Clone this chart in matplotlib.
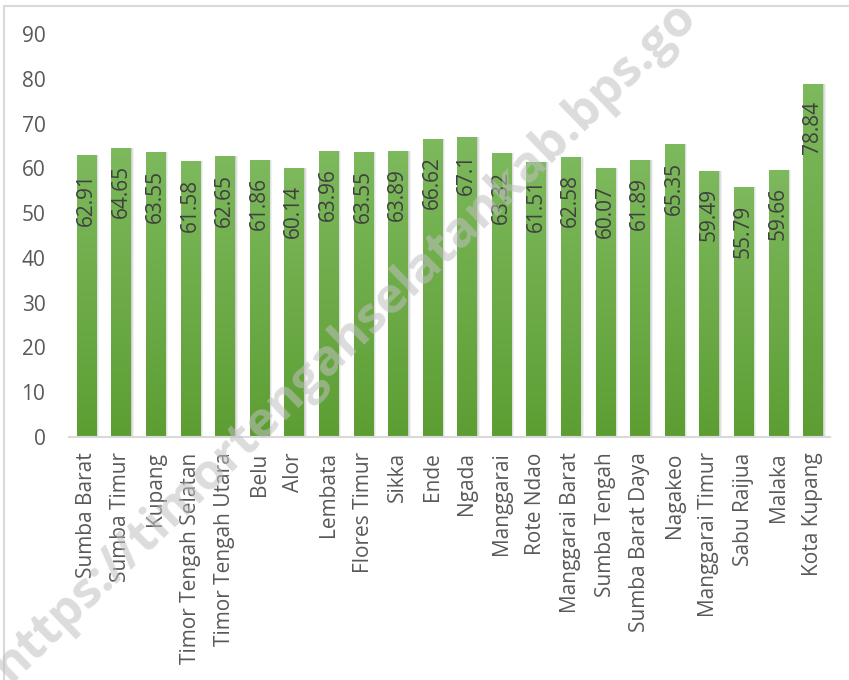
import numpy as np
import matplotlib
matplotlib.use("Agg")
import matplotlib.pyplot as plt
from matplotlib.patches import Rectangle
from matplotlib.colors import LinearSegmentedColormap

plt.rcParams['font.family'] = ['Open Sans', 'DejaVu Sans']

# Data
regions = ['Sumba Barat', 'Sumba Timur', 'Kupang', 'Timor Tengah Selatan',
           'Timor Tengah Utara', 'Belu', 'Alor', 'Lembata', 'Flores Timur',
           'Sikka', 'Ende', 'Ngada', 'Manggarai', 'Rote Ndao', 'Manggarai Barat',
           'Sumba Tengah', 'Sumba Barat Daya', 'Nagakeo', 'Manggarai Timur',
           'Sabu Raijua', 'Malaka', 'Kota Kupang']
values = [62.91, 64.65, 63.55, 61.58, 62.65, 61.86, 60.14, 63.96, 63.55,
          63.89, 66.62, 67.1, 63.32, 61.51, 62.58, 60.07, 61.89, 65.35,
          59.49, 55.79, 59.66, 78.84]
yticks = [0, 10, 20, 30, 40, 50, 60, 70, 80, 90]

W, H = 849, 680
fig = plt.figure(figsize=(W / 100, H / 100), dpi=100)
ax = fig.add_axes([69 / W, 1 - 437 / H, (830 - 69) / W, (437 - 34) / H])

x = np.arange(len(regions))
bar_w = 0.55

# soft shadow to the right of each bar
for off, a in [(0.10, 0.10), (0.07, 0.14), (0.04, 0.18)]:
    ax.bar(x + off, values, width=bar_w, color='#7f7f7f', alpha=a,
           linewidth=0, zorder=1)

bars = ax.bar(x, values, width=bar_w, color='#6aaa44', linewidth=0, zorder=2)

# vertical gradient inside each bar
green = LinearSegmentedColormap.from_list('g', ['#5d9e33', '#7db95d'])
grad = np.linspace(0, 1, 256).reshape(-1, 1)
for b in bars:
    x0, y0 = b.get_x(), b.get_y()
    im = ax.imshow(grad, cmap=green, origin='lower', aspect='auto',
                   extent=(x0, x0 + b.get_width(), y0, y0 + b.get_height()),
                   zorder=3)
    im.set_clip_path(b)

# value labels, rotated, inside top of bar
for xi, v in zip(x, values):
    ax.annotate(f'{v:g}', xy=(xi, v), xytext=(0, -12.5), textcoords='offset points',
                rotation=90, ha='center', va='top', fontsize=15,
                color='#404040', zorder=5)

ax.set_xlim(-0.5, len(regions) - 0.5)
ax.set_ylim(0, 90)
ax.set_yticks(yticks)
ax.set_xticks(x)
ax.set_xticklabels(regions, rotation=90, ha='center', va='top')
ax.tick_params(axis='x', length=0, pad=11, labelsize=15, labelcolor='#595959')
ax.tick_params(axis='y', length=0, pad=17, labelsize=15, labelcolor='#595959')
for s in ['top', 'right', 'left']:
    ax.spines[s].set_visible(False)
ax.spines['bottom'].set_color('#d9d9d9')
ax.spines['bottom'].set_linewidth(1.5)
ax.spines['bottom'].set_zorder(6)

# chart border
fig.patches.append(Rectangle((4 / W, -0.1), 1.1, 1.1 - 6 / H,
                             transform=fig.transFigure, fill=False,
                             edgecolor='#d9d9d9', linewidth=1.5))

# watermark
fig.text(345 / W, 1 - 342 / H, 'https://timortengahselatankab.bps.go',
         rotation=44, rotation_mode='anchor', ha='center', va='center',
         fontsize=36, fontweight='bold', color='#c0c0c0', alpha=0.55,
         zorder=10)

fig.savefig('out.png', dpi=100)
